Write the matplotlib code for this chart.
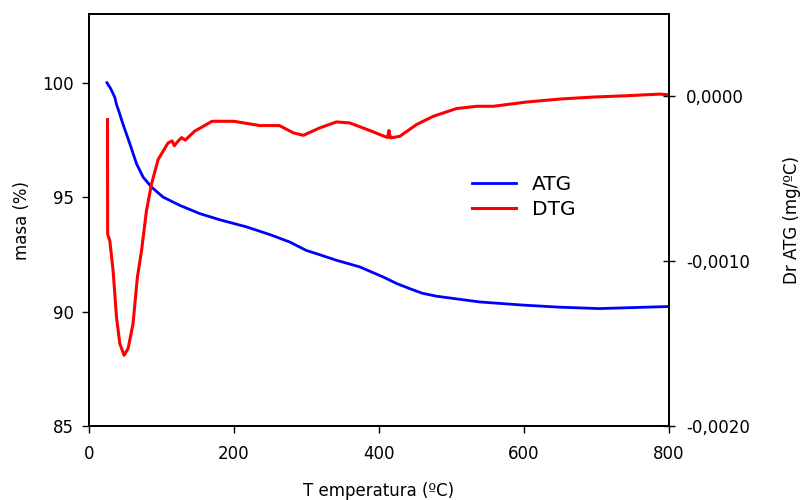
import matplotlib
matplotlib.use("Agg")
import matplotlib.pyplot as plt
from matplotlib.ticker import FuncFormatter

# ATG curve: temperature (C) vs mass (%)
atg_t = [25, 30, 36, 38, 42, 47, 56.5, 65.8, 75, 86.4, 102.5, 125.5, 153, 180.7,
         217.5, 250, 277, 300, 314, 341.6, 373.8, 406, 425, 442.8, 460, 479.6,
         539, 600, 650, 704, 800]
atg_m = [100.0, 99.75, 99.35, 99.07, 98.7, 98.2, 97.34, 96.46, 95.87, 95.44, 95.0,
         94.64, 94.28, 94.01, 93.70, 93.36, 93.04, 92.67, 92.53, 92.24, 91.95, 91.51,
         91.22, 91.0, 90.8, 90.67, 90.42, 90.28, 90.19, 90.13, 90.22]

# DTG curve: temperature (C) vs derivative (mg/C)
dtg_t = [25.8, 26.0, 29, 33.5, 38.2, 42.8, 48.7, 54.2, 61, 67, 72.7, 79.5, 86.4,
         95.6, 109.4, 115, 118, 123, 128, 133, 146, 170, 200, 236, 263, 282, 296,
         318.6, 341.6, 360, 387.6, 412, 414, 416, 429, 452, 475, 507, 535, 558,
         604, 650, 695.6, 741.6, 787.6, 799]
dtg_d = [-0.141, -0.836, -0.876, -1.057, -1.34, -1.50, -1.571, -1.53, -1.38, -1.098,
         -0.937, -0.695, -0.534, -0.383, -0.282, -0.27, -0.30, -0.272, -0.25, -0.265,
         -0.211, -0.151, -0.151, -0.177, -0.177, -0.221, -0.236, -0.191, -0.155,
         -0.161, -0.207, -0.25, -0.207, -0.252, -0.242, -0.171, -0.121, -0.074,
         -0.060, -0.060, -0.034, -0.016, -0.004, 0.004, 0.014, 0.010]
dtg_d = [v * 0.001 for v in dtg_d]

fig = plt.figure(figsize=(8, 5), dpi=100)
ax1 = fig.add_axes([0.111, 0.148, 0.725, 0.824])
ax2 = ax1.twinx()

l1, = ax1.plot(atg_t, atg_m, color="#0000ff", lw=2.0, label="ATG")
l2, = ax2.plot(dtg_t, dtg_d, color="#ff0000", lw=2.2, label="DTG")

ax1.set_xlim(0, 800)
ax1.set_ylim(85, 103)
ax1.set_xticks(range(0, 801, 200))
ax1.set_yticks([85, 90, 95, 100])
ax2.set_ylim(-0.002, 0.0005)
ax2.set_yticks([-0.002, -0.001, 0.0])
ax2.yaxis.set_major_formatter(FuncFormatter(lambda v, p: ("%.4f" % v).replace(".", ",")))

ax1.tick_params(axis="y", direction="out", length=5, width=1, labelsize=12, pad=6)
ax1.tick_params(axis="x", direction="out", length=5, width=1, labelsize=12, pad=9)
ax2.tick_params(axis="y", direction="inout", length=9, width=1, labelsize=12, pad=8)
for ax in (ax1, ax2):
    for s in ax.spines.values():
        s.set_linewidth(1.3)

ax1.set_xlabel("T emperatura (ºC)", fontsize=12, labelpad=13)
ax1.set_ylabel("masa (%)", fontsize=12, labelpad=8)
ax2.set_ylabel("Dr ATG (mg/ºC)", fontsize=12, labelpad=24)

ax2.legend([l1, l2], ["ATG", "DTG"], loc="center", bbox_to_anchor=(0.75, 0.555),
           frameon=False, fontsize=14.5, handlelength=2.2, handletextpad=0.8,
           labelspacing=0.3)

fig.savefig("out.png", dpi=100)
